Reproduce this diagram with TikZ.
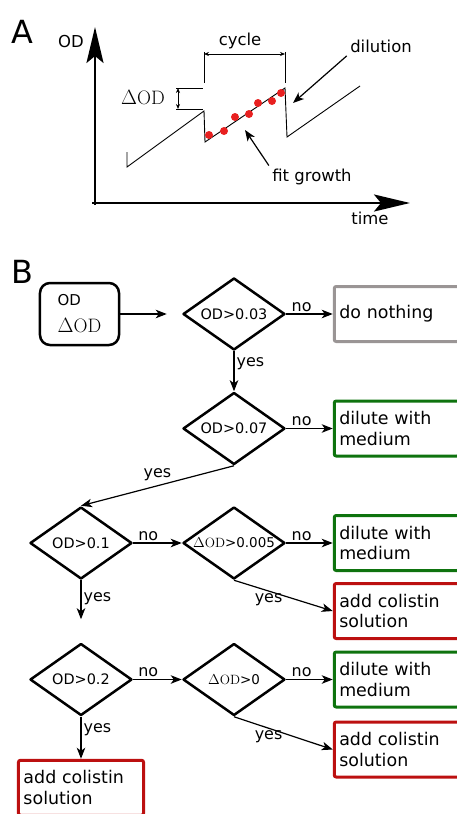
\documentclass[tikz,border=0pt]{standalone}
\usepackage{fontspec}
\setsansfont{DejaVu Sans}
\usetikzlibrary{arrows.meta,positioning,shapes.geometric}
\definecolor{odgray}{HTML}{9A9595}
\definecolor{odgreen}{HTML}{0E730E}
\definecolor{odred}{HTML}{BC1010}
\definecolor{dotred}{HTML}{E82020}

\begin{document}
\begin{tikzpicture}[x=1bp,y=-1bp,
  font=\sffamily\fontsize{16.5}{20}\selectfont,
  dec/.style={diamond,aspect=1.42,draw,line width=2.5bp,line join=round,minimum width=102bp,minimum height=72bp,inner sep=0pt,font=\sffamily\fontsize{14.5}{17}\selectfont},
  decs/.style={dec,font=\sffamily\fontsize{13.5}{16}\selectfont},
  act/.style={draw,line width=3bp,rounded corners=2pt,minimum width=125bp,minimum height=55bp,text width=115bp,inner sep=5bp,align=left,font=\sffamily\fontsize{17.5}{21}\selectfont},
  a/.style={-{Stealth[length=11bp,width=8.5bp,inset=3bp]},line width=1.2bp},
  ax/.style={-{Stealth[length=36bp,width=17bp,inset=7bp]},line width=2.5bp},
  dm/.style={{Stealth[length=5bp,width=4bp]}-{Stealth[length=5bp,width=4bp]},line width=0.7bp},
  lb/.style={inner sep=2bp,font=\sffamily\fontsize{16}{19}\selectfont}]
\useasboundingbox (0,0) rectangle (457,814);
% A
\node[font=\sffamily\fontsize{32}{32}\selectfont](lA) at (22,32){A};
\draw[ax](95,205)--(95,27);\draw[ax](92,203)--(410,203);
\node(yl) at (71,42){OD};\node(xl) at (370,218){time};
\coordinate(s0) at (127,152);\coordinate(s1) at (127,167);\coordinate(s2) at (204,111);\coordinate(s3) at (205,142);
\coordinate(s4) at (285,88);\coordinate(s5) at (287,137);\coordinate(s6) at (360,86);
\draw[line width=0.9bp](s0)--(s1)--(s2)--(s3)--(s4)--(s5)--(s6);
\foreach \p in {(209,135),(224,131),(235,117),(249,114),(258,103),(272,101),(281,93)}
  \fill[dotred]\p circle (4bp);
\draw[line width=0.7bp](204,52)--(204,83) (285,52)--(285,83) (176,88)--(203,88) (176,109)--(203,109);
\draw[dm](204,54)--(285,54);\draw[dm](178,88)--(178,109);
\node(cyc) at (240,41){cycle};
\node[font=\fontsize{19.5}{22}\selectfont](dod) at (143,98){$\Delta\mathrm{OD}$};
\node(dil) at (381,46){dilution};\coordinate(dtip) at (293,103);
\node(fit) at (312,177){fit growth};\coordinate(ftip) at (245,130);
\draw[a](dil.south west)--(dtip);\draw[a](fit.north west)--(ftip);
% B
\node[font=\sffamily\fontsize{32}{32}\selectfont](lB) at (22,272){B};
\node[dec](d1) at (234,314){OD>0.03};
\node[draw,line width=2.5bp,rounded corners=10bp,minimum width=79bp,minimum height=62bp,align=left,left=61.5bp of d1,font=\fontsize{19.5}{27}\selectfont](in){{\sffamily\fontsize{15}{18}\selectfont OD}\\$\Delta\mathrm{OD}$};
\node[dec,below=40bp of d1](d2){OD>0.07};
\node[decs,below=40bp of d2](d4){$\Delta\mathrm{OD}$>0.005};
\node[dec,left=48.5bp of d4](d3){OD>0.1};
\node[decs,below=62bp of d4](d6){$\Delta\mathrm{OD}$>0};
\node[dec,left=48.5bp of d6](d5){OD>0.2};
\node[act,draw=odgray,right=46.5bp of d1](b1){do nothing};
\node[act,draw=odgreen,right=46.5bp of d2](b2){dilute with\\medium};
\node[act,draw=odgreen,right=46.5bp of d4](b3){dilute with\\medium};
\node[act,draw=odred,below=10bp of b3](b4){add colistin\\solution};
\node[act,draw=odgreen,right=46.5bp of d6](b5){dilute with\\medium};
\node[act,draw=odred,below=12bp of b5](b6){add colistin\\solution};
\node[act,draw=odred,below=42bp of d5](b7){add colistin\\solution};
\draw[a,shorten >=15bp](in)--(d1);
\draw[a](d1)--node[lb,above,pos=0.33]{no}(b1);\draw[a](d1)--node[lb,right,pos=0.3]{yes}(d2);
\draw[a](d2)--node[lb,above,pos=0.33]{no}(b2);\draw[a](d2.south)--node[lb,above=2bp,pos=0.5]{yes}(d3.north);
\draw[a](d3)--node[lb,above,pos=0.31]{no}(d4);\draw[a,shorten >=23bp](d3)--node[lb,right,pos=0.3]{yes}(d5);
\draw[a](d4)--node[lb,above,pos=0.33]{no}(b3);\draw[a](d4.south)--node[lb,below,pos=0.35]{yes}(b4.west);
\draw[a](d5)--node[lb,above,pos=0.31]{no}(d6);\draw[a](d5)--node[lb,right,pos=0.3]{yes}(b7);
\draw[a](d6)--node[lb,above,pos=0.33]{no}(b5);\draw[a](d6.south)--node[lb,below,pos=0.35]{yes}(b6.west);
\end{tikzpicture}
\end{document}
